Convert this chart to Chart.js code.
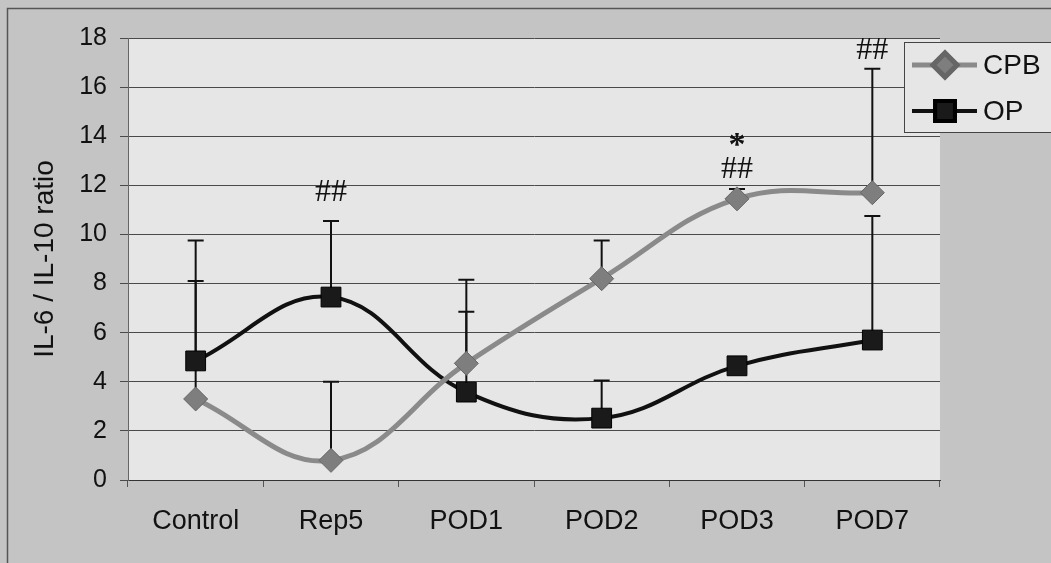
<!DOCTYPE html>
<html>
<head>
<meta charset="utf-8">
<script src="https://cdn.jsdelivr.net/npm/chart.js@4.4.1/dist/chart.umd.min.js"></script>
<style>
  html, body { margin: 0; padding: 0; background: #c4c4c4; }
  canvas { display: block; }
</style>
</head>
<body>
<canvas id="c" width="1051" height="563"></canvas>
<script>
const categories = ['Control', 'Rep5', 'POD1', 'POD2', 'POD3', 'POD7'];
const cpbValues = [3.3, 0.8, 4.75, 8.2, 11.45, 11.7];
const opValues = [4.85, 7.45, 3.58, 2.52, 4.65, 5.7];
const cpbErrorTop = [8.1, 4.0, 8.15, 9.75, 11.85, 16.75];
const opErrorTop = [9.75, 10.55, 6.85, 4.05, null, 10.75];
const yTicks = [0, 2, 4, 6, 8, 10, 12, 14, 16, 18];
const annotationLabels = ['##', '##', '*', '##'];
const annotationCategories = ['Rep5', 'POD3', 'POD3', 'POD7'];
const annotationValues = [11.7, 12.65, 13.95, 17.5];

const OUTER_BG = '#c4c4c4';
const PLOT_BG = '#e6e6e6';

const backgroundPlugin = {
  id: 'bg',
  beforeDraw(chart) {
    const {ctx, chartArea: a} = chart;
    ctx.save();
    ctx.fillStyle = OUTER_BG;
    ctx.fillRect(0, 0, chart.width, chart.height);
    ctx.fillStyle = PLOT_BG;
    ctx.fillRect(a.left, a.top, a.right - a.left, a.bottom - a.top);
    ctx.strokeStyle = '#555';
    ctx.lineWidth = 1.5;
    ctx.strokeRect(7.5, 8.5, chart.width + 20, chart.height + 20);
    ctx.restore();
  }
};

const errorBarPlugin = {
  id: 'errorBars',
  beforeDatasetsDraw(chart) {
    const {ctx, scales: {x, y}} = chart;
    const sets = [[cpbValues, cpbErrorTop], [opValues, opErrorTop]];
    ctx.save();
    ctx.strokeStyle = '#111';
    ctx.lineWidth = 2;
    sets.forEach(([vals, tops]) => {
      vals.forEach((v, i) => {
        if (tops[i] == null) return;
        const px = x.getPixelForValue(i);
        const y0 = y.getPixelForValue(v);
        const y1 = y.getPixelForValue(tops[i]);
        ctx.beginPath();
        ctx.moveTo(px, y0);
        ctx.lineTo(px, y1);
        ctx.moveTo(px - 8, y1);
        ctx.lineTo(px + 8, y1);
        ctx.stroke();
      });
    });
    ctx.restore();
  }
};

const annotationPlugin = {
  id: 'annotations',
  afterDatasetsDraw(chart) {
    const {ctx, scales: {x, y}} = chart;
    ctx.save();
    ctx.fillStyle = '#111';
    ctx.textAlign = 'center';
    ctx.textBaseline = 'middle';
    annotationLabels.forEach((t, i) => {
      const px = x.getPixelForValue(categories.indexOf(annotationCategories[i]));
      let py = y.getPixelForValue(annotationValues[i]);
      if (t === '*') {
        ctx.font = 'bold 34px "Liberation Serif"';
        py += 9;
      } else {
        ctx.font = '32px "Liberation Serif"';
      }
      ctx.fillText(t, px, py);
    });
    ctx.restore();
  }
};

const legendPlugin = {
  id: 'customLegend',
  afterDraw(chart) {
    const {ctx} = chart;
    const bx = 904.5, by = 42.5, bw = 170, bh = 90;
    ctx.save();
    ctx.fillStyle = PLOT_BG;
    ctx.fillRect(bx, by, bw, bh);
    ctx.strokeStyle = '#444';
    ctx.lineWidth = 1;
    ctx.strokeRect(bx, by, bw, bh);
    const rows = [65, 111];
    chart.data.datasets.forEach((ds, i) => {
      const ly = rows[i];
      ctx.strokeStyle = ds.borderColor;
      ctx.lineWidth = ds.borderWidth;
      ctx.beginPath();
      ctx.moveTo(912, ly);
      ctx.lineTo(977, ly);
      ctx.stroke();
      Chart.helpers.drawPoint(ctx, {
        pointStyle: ds.pointStyle,
        radius: ds.pointRadius,
        borderWidth: 1
      }, 945, ly);
      ctx.fillStyle = ds.pointBackgroundColor;
      ctx.strokeStyle = ds.pointBorderColor;
      ctx.fill();
      ctx.stroke();
      ctx.fillStyle = '#111';
      ctx.font = '28px "Liberation Sans"';
      ctx.textAlign = 'left';
      ctx.textBaseline = 'middle';
      ctx.fillText(ds.label, 983, ly + 1);
    });
    ctx.restore();
  }
};

new Chart(document.getElementById('c'), {
  type: 'line',
  data: {
    labels: categories,
    datasets: [
      {
        label: 'CPB',
        data: cpbValues,
        borderColor: '#8a8a8a',
        borderWidth: 5,
        tension: 0.4,
        pointStyle: 'rectRot',
        pointRadius: 12,
        pointBackgroundColor: '#7e7e7e',
        pointBorderColor: '#666',
        pointBorderWidth: 1,
        clip: false
      },
      {
        label: 'OP',
        data: opValues,
        borderColor: '#111',
        borderWidth: 4,
        tension: 0.4,
        pointStyle: 'rect',
        pointRadius: 14,
        pointBackgroundColor: '#1a1a1a',
        pointBorderColor: '#000',
        pointBorderWidth: 1,
        clip: false
      }
    ]
  },
  options: {
    responsive: false,
    animation: false,
    devicePixelRatio: 1,
    layout: { padding: { left: 10, top: 38, right: 111, bottom: 0 } },
    plugins: { legend: { display: false }, tooltip: { enabled: false } },
    scales: {
      x: {
        offset: true,
        grid: { offset: true, drawOnChartArea: false, tickLength: 7, color: '#555', lineWidth: 1 },
        border: { display: true, color: '#333', width: 1 },
        ticks: { color: '#111', font: { family: 'Liberation Sans', size: 27 }, padding: 18, maxRotation: 0 },
        afterFit(scale) { scale.height = 83; }
      },
      y: {
        min: 0,
        max: 18,
        afterBuildTicks(scale) { scale.ticks = yTicks.map(v => ({ value: v })); },
        grid: { color: '#4a4a4a', lineWidth: 1, tickLength: 8 },
        border: { display: true, color: '#666', width: 1 },
        ticks: { color: '#111', font: { family: 'Liberation Sans', size: 25 }, padding: 13 },
        title: {
          display: true,
          text: 'IL-6 / IL-10 ratio',
          color: '#111',
          font: { family: 'Liberation Sans', size: 28 },
          padding: { top: 18, bottom: 0 }
        },
        afterFit(scale) { scale.width = 118; }
      }
    }
  },
  plugins: [backgroundPlugin, errorBarPlugin, annotationPlugin, legendPlugin]
});
</script>
</body>
</html>
